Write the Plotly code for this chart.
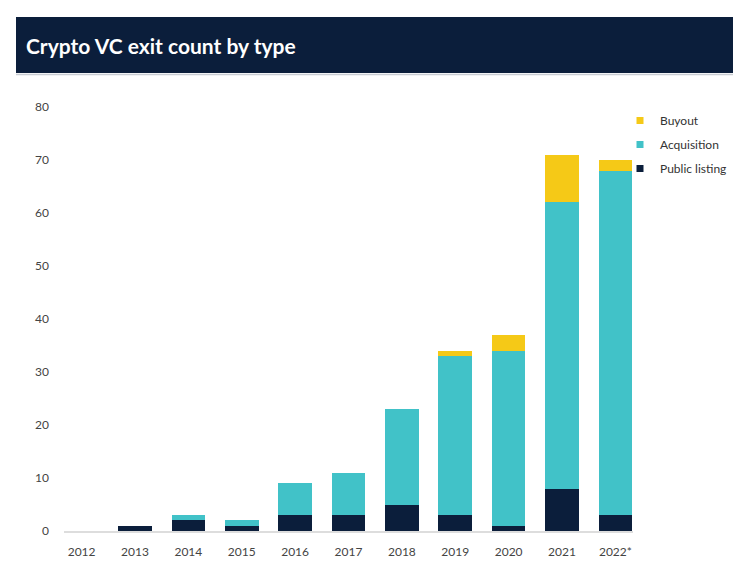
import plotly.graph_objects as go

years = ["2012", "2013", "2014", "2015", "2016", "2017", "2018", "2019", "2020", "2021", "2022*"]
public_listing = [0, 1, 2, 1, 3, 3, 5, 3, 1, 8, 3]
acquisition = [0, 0, 1, 1, 6, 8, 18, 30, 33, 54, 65]
buyout = [0, 0, 0, 0, 0, 0, 0, 1, 3, 9, 2]

navy = "#0b1e3b"
teal = "#41c2c8"
yellow = "#f5c917"

# page is drawn with an 8px body margin, so targets are shifted by 8
OFF = 8
W, H = 741, 583
L, R, T, B = 64 - OFF, 108 + OFF, 107 - OFF, 52 + OFF
pw, ph = W - L - R, H - T - B


def px(x):
    return (x - OFF - L) / pw


def py(y):
    return (H - B - (y - OFF)) / ph


fig = go.Figure()
series = [("Public listing", public_listing, navy),
          ("Acquisition", acquisition, teal),
          ("Buyout", buyout, yellow)]
for name, vals, col in series:
    fig.add_trace(go.Bar(x=years, y=vals, name=name, marker_color=col,
                         marker_line_width=0, width=0.63, showlegend=False))
# small square keys for the legend, top item first
for name, vals, col in series[::-1]:
    fig.add_trace(go.Scatter(x=[None], y=[None], name=name, mode="markers",
                             legendgroup=name,
                             marker=dict(symbol="square", size=7, color=col)))

fig.update_layout(
    width=W, height=H,
    barmode="stack",
    plot_bgcolor="white", paper_bgcolor="white",
    margin=dict(l=L, r=R, t=T, b=B),
    font=dict(family="Lato, Open Sans, sans-serif", size=12, color="#444"),
    legend=dict(x=px(620), y=py(106), xanchor="left", yanchor="top",
                traceorder="grouped", font=dict(size=12, color="#333"),
                itemwidth=30, tracegroupgap=5, bgcolor="rgba(0,0,0,0)"),
    shapes=[
        dict(type="rect", xref="paper", yref="paper",
             x0=px(16), x1=px(760), y0=py(73), y1=py(17),
             fillcolor=navy, line_width=0, layer="below"),
        dict(type="line", xref="paper", yref="paper",
             x0=px(16), x1=px(760), y0=py(74.5), y1=py(74.5),
             line=dict(color="#c8ccd2", width=1.5)),
    ],
    annotations=[
        dict(text="<b>Crypto VC exit count by type</b>", xref="paper", yref="paper",
             x=px(24), y=py(45), xanchor="left", yanchor="middle", showarrow=False,
             font=dict(family="Lato, Open Sans, sans-serif", size=21, color="white")),
    ],
)
fig.update_xaxes(range=[-0.33, 10.33], showgrid=False, showline=True,
                 linecolor="#dddddd", linewidth=1.5, ticks="",
                 ticklabelstandoff=9, tickfont=dict(size=12, color="#444"))
fig.update_yaxes(range=[0, 80], dtick=10, showgrid=False, zeroline=False,
                 showline=False, ticks="", ticklabelstandoff=14,
                 tickfont=dict(size=12, color="#444"))

fig.write_html("out.html")
